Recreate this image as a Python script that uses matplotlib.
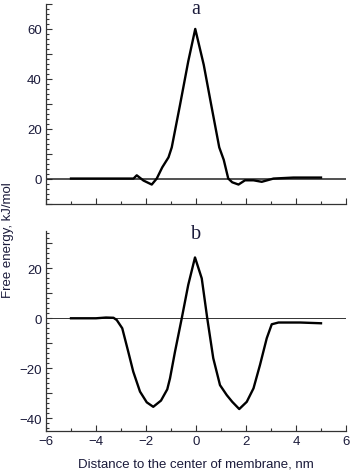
import numpy as np
import matplotlib.pyplot as plt
from matplotlib.ticker import MultipleLocator, FuncFormatter

# panel a: free energy profile, kJ/mol
xa = [-5.0, -4.0, -3.0, -2.5, -2.37, -2.1, -1.77, -1.57, -1.35, -1.1, -0.97,
      -0.64, -0.31, -0.03, 0.31, 0.6, 0.93, 1.11, 1.29, 1.45, 1.7, 1.96,
      2.3, 2.63, 3.1, 3.9, 5.0]
ya = [0.0, 0.0, 0.0, 0.0, 1.3, -0.8, -2.4, 0.0, 4.5, 8.5, 12.5,
      29.5, 47.0, 60.0, 45.6, 30.0, 12.5, 7.5, 0.0, -1.5, -2.4, -0.7,
      -0.7, -1.3, 0.0, 0.4, 0.4]

# panel b
xb = [-5.0, -4.0, -3.6, -3.3, -3.17, -2.95, -2.71, -2.51, -2.24, -1.97, -1.71,
      -1.4, -1.15, -1.04, -0.84, -0.57, -0.31, -0.04, 0.23, 0.45, 0.69,
      0.96, 1.23, 1.45, 1.73, 2.03, 2.3, 2.56, 2.83, 3.03, 3.3, 4.17, 5.0]
yb = [0.0, 0.0, 0.3, 0.2, -0.7, -4.0, -13.4, -21.4, -29.4, -33.7, -35.5,
      -33.0, -28.5, -24.1, -13.4, 0.0, 13.4, 24.4, 16.0, 0.0, -16.0,
      -26.8, -30.8, -33.5, -36.4, -33.5, -28.1, -18.7, -8.0, -2.4, -1.7, -1.7, -2.0]

plt.rcParams['font.family'] = ['Liberation Sans', 'DejaVu Sans']
txt = '#1a1a3a'

fig = plt.figure(figsize=(3.51, 4.77), dpi=100)
ax1 = fig.add_axes([46/351, 1 - 204.5/477, 300/351, 199.5/477])
ax2 = fig.add_axes([46/351, 1 - 431.5/477, 300/351, 199.5/477])

def style(ax, ylim, show_x):
    ax.set_xlim(-6, 6)
    ax.set_ylim(*ylim)
    for s in ['top', 'right']:
        ax.spines[s].set_visible(False)
    for s in ['left', 'bottom']:
        ax.spines[s].set_color('#333333')
        ax.spines[s].set_linewidth(0.9)
    ax.xaxis.set_major_locator(MultipleLocator(2))
    ax.xaxis.set_minor_locator(MultipleLocator(1))
    ax.yaxis.set_major_locator(MultipleLocator(10))
    ax.yaxis.set_minor_locator(MultipleLocator(2))
    ax.yaxis.set_major_formatter(FuncFormatter(
        lambda v, p: ('%d' % v).replace('-', '\u2212') if v % 20 == 0 else ''))
    ax.xaxis.set_major_formatter(FuncFormatter(
        lambda v, p: ('%d' % v).replace('-', '\u2212')))
    ax.tick_params(which='both', direction='in', labelsize=9.5, colors='#333333',
                   labelcolor=txt, width=0.8)
    ax.tick_params(which='major', length=4.5, pad=3)
    ax.tick_params(which='minor', length=2.5)
    if not show_x:
        ax.tick_params(axis='x', labelbottom=False)

style(ax1, (-10, 70), False)
style(ax2, (-45, 35), True)

ax1.axhline(0, color='#222222', lw=1.1)
ax1.plot(xa, ya, color='black', lw=1.7)
ax2.axhline(0, color='#333333', lw=0.7)
ax2.plot(xb, yb, color='black', lw=1.7)

# panel letters, Times-like
ax1.text(0.5, 0.955, 'a', transform=ax1.transAxes, ha='center', va='baseline',
         fontsize=14.5, family='Liberation Serif', color=txt)
ax2.text(0.5, 0.963, 'b', transform=ax2.transAxes, ha='center', va='baseline',
         fontsize=14.5, family='Liberation Serif', color=txt)

ax2.set_xlabel('Distance to the center of membrane, nm', fontsize=9.5, color=txt, labelpad=8)
fig.text(8/351, 1 - 240/477, 'Free energy, kJ/mol', rotation=90, ha='center',
         va='center', fontsize=9.5, color=txt)

fig.savefig('out.png', dpi=100)
